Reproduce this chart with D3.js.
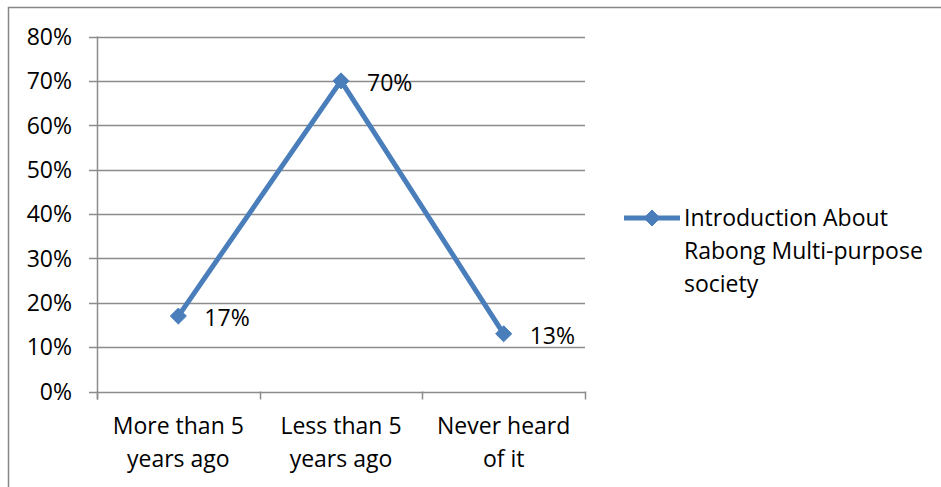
<!DOCTYPE html>
<html>
<head>
<meta charset="utf-8">
<script src="https://cdn.jsdelivr.net/npm/d3@7"></script>
<style>
  html, body { margin: 0; padding: 0; background: #fff; }
  svg { display: block; }
  text { font-family: "Open Sans", Lato, sans-serif; fill: #000; }
</style>
</head>
<body>
<svg id="chart" width="941" height="487"></svg>
<script>
// Survey responses: when respondents first heard about the society
const categories = [["More than 5", "years ago"], ["Less than 5", "years ago"], ["Never heard", "of it"]];
const values = [0.17, 0.70, 0.13];
const valueLabels = ["17%", "70%", "13%"];
const yTicks = [0, 0.1, 0.2, 0.3, 0.4, 0.5, 0.6, 0.7, 0.8];
const seriesName = ["Introduction About", "Rabong Multi-purpose", "society"];

const svg = d3.select("#chart");
const lineColor = "#4A7EBB";
const gridColor = "#8c8c8c";
const fontSize = 23;

// Chart frame
svg.append("rect")
  .attr("x", 8.5).attr("y", 7.5)
  .attr("width", 1000).attr("height", 1000)
  .attr("fill", "none").attr("stroke", "#868686").attr("stroke-width", 1.5);

const plot = { left: 97, right: 585, top: 36.5, bottom: 391.5 };

const x = d3.scaleBand()
  .domain(d3.range(categories.length))
  .range([plot.left, plot.right])
  .padding(0);

const y = d3.scaleLinear()
  .domain([0, 0.8])
  .range([plot.bottom, plot.top]);

// Horizontal gridlines
svg.append("g")
  .selectAll("line")
  .data(yTicks)
  .join("line")
  .attr("x1", plot.left - 8).attr("x2", plot.right)
  .attr("y1", d => Math.round(y(d)) + 0.5).attr("y2", d => Math.round(y(d)) + 0.5)
  .attr("stroke", gridColor).attr("stroke-width", 1.5);

// Y axis line
svg.append("line")
  .attr("x1", plot.left + 0.5).attr("x2", plot.left + 0.5)
  .attr("y1", y(0.8)).attr("y2", y(0) + 8)
  .attr("stroke", gridColor).attr("stroke-width", 1.5);

// Y tick labels
svg.append("g")
  .selectAll("text")
  .data(yTicks)
  .join("text")
  .attr("x", plot.left - 25)
  .attr("y", d => y(d))
  .attr("dy", "0.36em")
  .attr("text-anchor", "end")
  .attr("font-size", fontSize)
  .text(d3.format(".0%"));

// Category boundary ticks on x axis
const boundaries = d3.range(categories.length + 1).map(i => i < categories.length ? x(i) : x(i - 1) + x.bandwidth());
svg.append("g")
  .selectAll("line")
  .data(boundaries)
  .join("line")
  .attr("x1", d => Math.round(d) + 0.5).attr("x2", d => Math.round(d) + 0.5)
  .attr("y1", y(0)).attr("y2", y(0) + 8)
  .attr("stroke", gridColor).attr("stroke-width", 1.5);

// Category labels
const cx = i => x(i) + x.bandwidth() / 2;
svg.append("g")
  .selectAll("text")
  .data(categories)
  .join("text")
  .attr("x", (d, i) => cx(i))
  .attr("y", y(0) + 42)
  .attr("text-anchor", "middle")
  .attr("font-size", fontSize)
  .each(function(d) {
    const t = d3.select(this);
    t.selectAll("tspan")
      .data(d)
      .join("tspan")
      .attr("x", t.attr("x"))
      .attr("dy", (s, j) => j === 0 ? 0 : 33)
      .text(s => s);
  });

// Series line
const line = d3.line().x((d, i) => cx(i)).y(d => y(d));
svg.append("path")
  .datum(values)
  .attr("d", line)
  .attr("fill", "none")
  .attr("stroke", lineColor)
  .attr("stroke-width", 5)
  .attr("stroke-linejoin", "round");

// Diamond markers
const diamond = d3.symbol().type(d3.symbolDiamond2).size(165);
svg.append("g")
  .selectAll("path")
  .data(values)
  .join("path")
  .attr("transform", (d, i) => `translate(${cx(i)},${y(d)})`)
  .attr("d", diamond)
  .attr("fill", lineColor)
  .attr("stroke", lineColor)
  .attr("stroke-width", 1);

// Data labels
svg.append("g")
  .selectAll("text")
  .data(values)
  .join("text")
  .attr("x", (d, i) => cx(i) + 26)
  .attr("y", d => y(d) + 2)
  .attr("dy", "0.36em")
  .attr("font-size", fontSize)
  .text((d, i) => valueLabels[i]);

// Legend
const lg = svg.append("g").attr("transform", "translate(624,218)");
lg.append("line")
  .attr("x1", 0).attr("x2", 56)
  .attr("y1", 0).attr("y2", 0)
  .attr("stroke", lineColor).attr("stroke-width", 5);
lg.append("path")
  .attr("transform", "translate(28,0)")
  .attr("d", diamond)
  .attr("fill", lineColor)
  .attr("stroke", lineColor);
lg.append("text")
  .attr("font-size", fontSize)
  .selectAll("tspan")
  .data(seriesName)
  .join("tspan")
  .attr("x", 60)
  .attr("y", (s, j) => j * 33)
  .attr("dy", "0.36em")
  .text(s => s);
</script>
</body>
</html>
